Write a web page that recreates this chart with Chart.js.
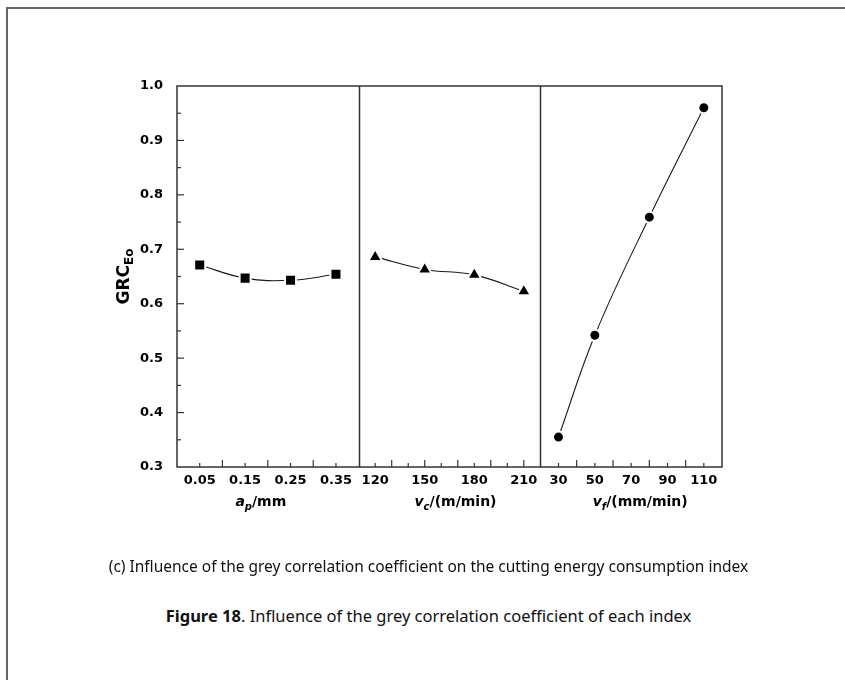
<!DOCTYPE html>
<html>
<head>
<meta charset="utf-8">
<script src="https://cdn.jsdelivr.net/npm/chart.js@4.4.0/dist/chart.umd.min.js"></script>
<style>
  html, body { margin: 0; padding: 0; background: #fff; }
  body { width: 845px; height: 680px; overflow: hidden; position: relative; font-family: "Noto Sans", sans-serif; }
  #marco { position: absolute; left: 6px; top: 7px; width: 900px; height: 700px; border-left: 2px solid #666; border-top: 2px solid #666; }
  #contenedor { position: absolute; left: 0; top: 0; width: 845px; height: 560px; }
  .pie { position: absolute; left: 8px; width: 841px; text-align: center; color: #111; white-space: nowrap; }
</style>
</head>
<body>
<div id="marco"></div>
<div id="contenedor"><canvas id="grafico-grc"></canvas></div>
<div class="pie" style="top:555px; font-size:15.5px">(c) Influence of the grey correlation coefficient on the cutting energy consumption index</div>
<div class="pie" style="top:604px; font-size:16.5px"><b>Figure 18</b>. Influence of the grey correlation coefficient of each index</div>
<script>
// niveles de cada factor
const apNiveles = [0.05, 0.15, 0.25, 0.35];
const vcNiveles = [120, 150, 180, 210];
const vfNiveles = [30, 50, 80, 110];

// GRC_Eo
const grcAp = [0.671, 0.647, 0.643, 0.654];
const grcVc = [0.686, 0.663, 0.653, 0.623];
const grcVf = [0.355, 0.542, 0.759, 0.960];

// etiquetas de los ejes
const apEtiquetas = ["0.05", "0.15", "0.25", "0.35"];
const vcEtiquetas = ["120", "150", "180", "210"];
const vfEtiquetas = ["30", "50", "70", "90", "110"];
const yEtiquetas = ["0.3", "0.4", "0.5", "0.6", "0.7", "0.8", "0.9", "1.0"];

const fuenteTicks = { family: "'DejaVu Sans', sans-serif", size: 13, weight: "bold" };
const FAMILIA = "'DejaVu Sans', sans-serif";

function etiquetaDe(lista) {
  return v => {
    const s = lista.find(l => Math.abs(parseFloat(l) - v) < 1e-6);
    return s === undefined ? "" : s;
  };
}

function ejeX(min, max, paso, etiquetas) {
  return {
    type: "linear",
    position: "bottom",
    stack: "paneles",
    stackWeight: 1,
    min: min,
    max: max,
    grid: { display: false, drawTicks: false },
    border: { display: false },
    ticks: {
      stepSize: paso,
      maxTicksLimit: 30,
      autoSkip: false,
      maxRotation: 0,
      padding: 6,
      color: "#000",
      font: fuenteTicks,
      callback: etiquetaDe(etiquetas)
    },
    afterFit: s => { s.height = 50; }
  };
}

function serie(xs, ys, eje, estilo, radio) {
  return {
    data: xs.map((x, i) => ({ x: x, y: ys[i] })),
    xAxisID: eje,
    yAxisID: "y",
    borderColor: "#1a1a1a",
    borderWidth: 1.1,
    tension: 0.4,
    pointStyle: estilo,
    pointRadius: radio,
    pointBackgroundColor: "#000",
    pointBorderColor: "#fff",
    pointBorderWidth: 2
  };
}

// texto con subindices e italicas
function textoRico(ctx, partes, cx, base, tam) {
  const fuente = p => `${p.it ? "italic " : ""}bold ${p.sub ? Math.round(tam * 0.7) : tam}px ${FAMILIA}`;
  let total = 0;
  partes.forEach(p => { ctx.font = fuente(p); p.w = ctx.measureText(p.t).width; total += p.w; });
  let x = cx - total / 2;
  ctx.textAlign = "left";
  ctx.textBaseline = "alphabetic";
  partes.forEach(p => {
    ctx.font = fuente(p);
    ctx.fillText(p.t, x, base + (p.sub ? 4 : 0));
    x += p.w;
  });
}

const titulosX = {
  xa: [{ t: "a", it: true }, { t: "p", it: true, sub: true }, { t: "/mm" }],
  xb: [{ t: "v", it: true }, { t: "c", it: true, sub: true }, { t: "/(m/min)" }],
  xc: [{ t: "v", it: true }, { t: "f", it: true, sub: true }, { t: "/(mm/min)" }]
};
const desplazTitulo = { xa: -7, xb: 6, xc: 9 };

const marcoPlugin = {
  id: "marcoOrigin",
  afterDraw(chart) {
    const { ctx, chartArea: a, scales } = chart;
    ctx.save();
    ctx.strokeStyle = "#333";
    ctx.lineWidth = 1.5;
    ctx.strokeRect(a.left, a.top, a.right - a.left, a.bottom - a.top);
    ["xb", "xc"].forEach(id => {
      const x = Math.round(scales[id].left) + 0.5;
      ctx.beginPath(); ctx.moveTo(x, a.top); ctx.lineTo(x, a.bottom); ctx.stroke();
    });

    // marcas hacia dentro
    ctx.lineWidth = 1.2;
    ["xa", "xb", "xc"].forEach(id => {
      const s = scales[id];
      const paso = s.options.ticks.stepSize;
      s.ticks.forEach(t => {
        const px = s.getPixelForValue(t.value);
        if (px <= s.left + 1 || px >= s.right - 1) return;
        const k = Math.round((t.value - s.min) / paso);
        const largo = k % 2 === 0 ? 7 : 4;
        ctx.beginPath(); ctx.moveTo(px, a.bottom); ctx.lineTo(px, a.bottom - largo); ctx.stroke();
      });
    });
    const sy = scales.y;
    sy.ticks.forEach(t => {
      const py = sy.getPixelForValue(t.value);
      if (py <= a.top + 1 || py >= a.bottom - 1) return;
      const largo = t.label !== "" ? 7 : 4;
      ctx.beginPath(); ctx.moveTo(a.left, py); ctx.lineTo(a.left + largo, py); ctx.stroke();
    });

    // titulos
    ctx.fillStyle = "#000";
    Object.keys(titulosX).forEach(id => {
      const s = scales[id];
      textoRico(ctx, titulosX[id], (s.left + s.right) / 2 + desplazTitulo[id], a.bottom + 39, 14);
    });
    ctx.translate(a.left - 48, (a.top + a.bottom) / 2);
    ctx.rotate(-Math.PI / 2);
    textoRico(ctx, [{ t: "GRC" }, { t: "Eo", sub: true }], 0, 0, 17);
    ctx.restore();
  }
};

document.addEventListener("DOMContentLoaded", () => {
  const ctx = document.getElementById("grafico-grc").getContext("2d");
  new Chart(ctx, {
    type: "line",
    data: {
      datasets: [
        serie(apNiveles, grcAp, "xa", "rect", 7.8),
        serie(vcNiveles, grcVc, "xb", "triangle", 8),
        serie(vfNiveles, grcVf, "xc", "circle", 5.5)
      ]
    },
    options: {
      responsive: true,
      maintainAspectRatio: false,
      animation: false,
      layout: { padding: { left: 117, right: 123, top: 86, bottom: 43 } },
      plugins: { legend: { display: false }, tooltip: { enabled: false } },
      scales: {
        xa: ejeX(0, 0.4, 0.05, apEtiquetas),
        xb: ejeX(110, 220, 10, vcEtiquetas),
        xc: ejeX(20, 120, 10, vfEtiquetas),
        y: {
          type: "linear",
          position: "left",
          min: 0.3,
          max: 1.0,
          grid: { display: false, drawTicks: false },
          border: { display: false },
          ticks: {
            stepSize: 0.05,
            autoSkip: false,
            padding: 14,
            color: "#000",
            font: fuenteTicks,
            callback: etiquetaDe(yEtiquetas)
          },
          afterFit: s => { s.width = 60; }
        }
      }
    },
    plugins: [marcoPlugin]
  });
});
</script>
</body>
</html>
